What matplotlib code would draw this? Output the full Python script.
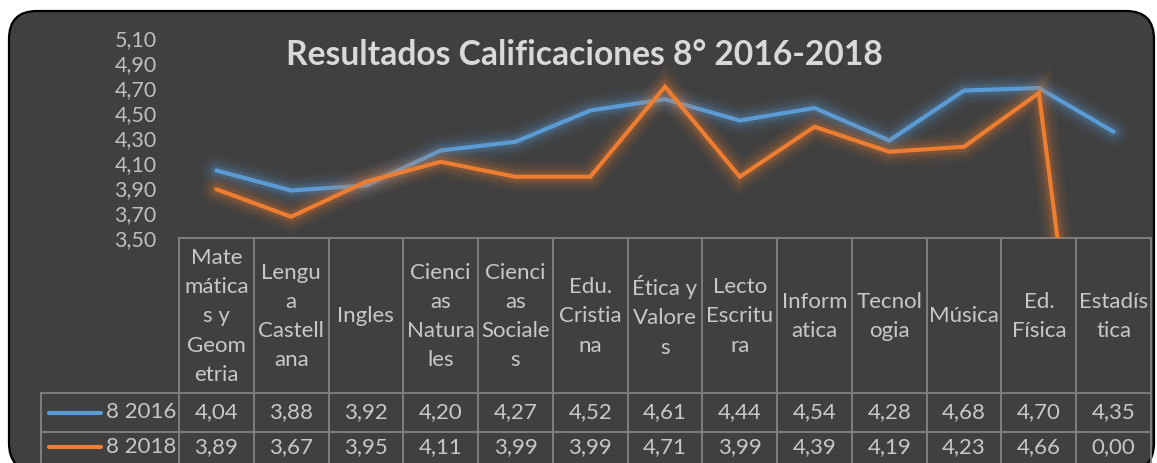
import numpy as np
import matplotlib
matplotlib.use("Agg")
import matplotlib.pyplot as plt
from matplotlib import patheffects as pe
from matplotlib import transforms
from matplotlib.patches import FancyBboxPatch
from matplotlib.ticker import FuncFormatter

# ---------------- data ----------------
title = "Resultados Calificaciones 8° 2016-2018"
categories = ["Mate\nmática\ns y\nGeom\netria", "Lengu\na\nCastell\nana", "Ingles",
              "Cienci\nas\nNatura\nles", "Cienci\nas\nSociale\ns", "Edu.\nCristia\nna",
              "Ética y\nValore\ns", "Lecto\nEscritu\nra", "Inform\natica", "Tecnol\nogia",
              "Música", "Ed.\nFísica", "Estadís\ntica"]
series_names = ["8 2016", "8 2018"]
values_2016 = [4.04, 3.88, 3.92, 4.20, 4.27, 4.52, 4.61, 4.44, 4.54, 4.28, 4.68, 4.70, 4.35]
values_2018 = [3.89, 3.67, 3.95, 4.11, 3.99, 3.99, 4.71, 3.99, 4.39, 4.19, 4.23, 4.66, 0.00]
y_ticks = [3.50, 3.70, 3.90, 4.10, 4.30, 4.50, 4.70, 4.90, 5.10]

# ---------------- style ----------------
W, H = 1157, 463
BG = "#404040"
BLUE = "#5b9bd5"
ORANGE = "#ed7d31"
GRID = "#7f7f7f"
TXT = "#c8c8c8"
FONT = "Lato"
plt.rcParams["font.family"] = [FONT, "DejaVu Sans"]

fig = plt.figure(figsize=(W / 100, H / 100), dpi=100)
fig.patch.set_facecolor("white")

# overlay in pixel coordinates (background + table)
ov = fig.add_axes([0, 0, 1, 1], zorder=0)
ov.set_xlim(0, W)
ov.set_ylim(H, 0)
ov.axis("off")
ov.add_patch(FancyBboxPatch((9, 11), 1145, 460,
                            boxstyle="round,pad=0,rounding_size=28",
                            facecolor=BG, edgecolor="black", linewidth=1.6))

# plot axes
L, R, T, B = 179, 1151, 38, 238
ax = fig.add_axes([L / W, (H - B) / H, (R - L) / W, (B - T) / H], zorder=1)
ax.patch.set_alpha(0)
for s in ax.spines.values():
    s.set_visible(False)
n = len(categories)
x = np.arange(n)
ax.set_xlim(-0.5, n - 0.5)
ax.set_ylim(y_ticks[0], y_ticks[-1])
ax.set_xticks([])
ax.set_yticks(y_ticks)
ax.yaxis.set_major_formatter(FuncFormatter(lambda v, p: f"{v:.2f}".replace(".", ",")))
ax.tick_params(axis="y", length=0, pad=16, labelsize=15.5, labelcolor="#bfbfbf")


def glow(color):
    return [pe.Stroke(linewidth=22, foreground=color, alpha=0.04),
            pe.Stroke(linewidth=18, foreground=color, alpha=0.05),
            pe.Stroke(linewidth=14, foreground=color, alpha=0.07),
            pe.Stroke(linewidth=10, foreground=color, alpha=0.10),
            pe.Stroke(linewidth=7, foreground=color, alpha=0.14),
            pe.Normal()]


ax.plot(x, values_2016, color=BLUE, lw=3, solid_joinstyle="miter",
        solid_capstyle="round", path_effects=glow(BLUE))
ax.plot(x, values_2018, color=ORANGE, lw=3, solid_joinstyle="miter",
        solid_capstyle="round", path_effects=glow(ORANGE))

fig.text(584 / W, 1 - 55 / H, title, ha="center", va="center",
         fontsize=24.2, fontweight="bold", color="#d9d9d9", family=FONT)

# ---------------- data table ----------------
bt = transforms.blended_transform_factory(ax.transData, ov.transData)
head_top, row1_top, row2_top, tab_bot = 238, 393, 432, 470
leg_left = 41
lw_grid = 1.4

# horizontal lines
ov.plot([L, R], [head_top, head_top], color=GRID, lw=lw_grid)
for yy in (row1_top, row2_top):
    ov.plot([leg_left, R], [yy, yy], color=GRID, lw=lw_grid)
ov.plot([leg_left, leg_left], [row1_top, tab_bot], color=GRID, lw=lw_grid)
# vertical lines at category boundaries
for b in np.arange(n + 1) - 0.5:
    ax.plot([b, b], [head_top, tab_bot], color=GRID, lw=lw_grid,
            transform=bt, clip_on=False)

# header labels
for i, c in enumerate(categories):
    ax.text(i, (head_top + row1_top) / 2 + 1, c, transform=bt, ha="center",
            va="center", fontsize=16, color=TXT, linespacing=1.58, clip_on=False)

# value rows + legend keys
rows = [(values_2016, BLUE, series_names[0]), (values_2018, ORANGE, series_names[1])]
centers = [(row1_top + row2_top) / 2, (row2_top + tab_bot) / 2 - 4]
for (vals, col, name), yc in zip(rows, centers):
    ov.plot([49, 101], [yc, yc], color=col, lw=3, solid_capstyle="round")
    ov.text(106, yc, name, ha="left", va="center", fontsize=16, color=TXT)
    for i, v in enumerate(vals):
        ax.text(i, yc, f"{v:.2f}".replace(".", ","), transform=bt, ha="center",
                va="center", fontsize=16, color=TXT, clip_on=False)

fig.savefig("out.png", dpi=100, facecolor=fig.get_facecolor())
